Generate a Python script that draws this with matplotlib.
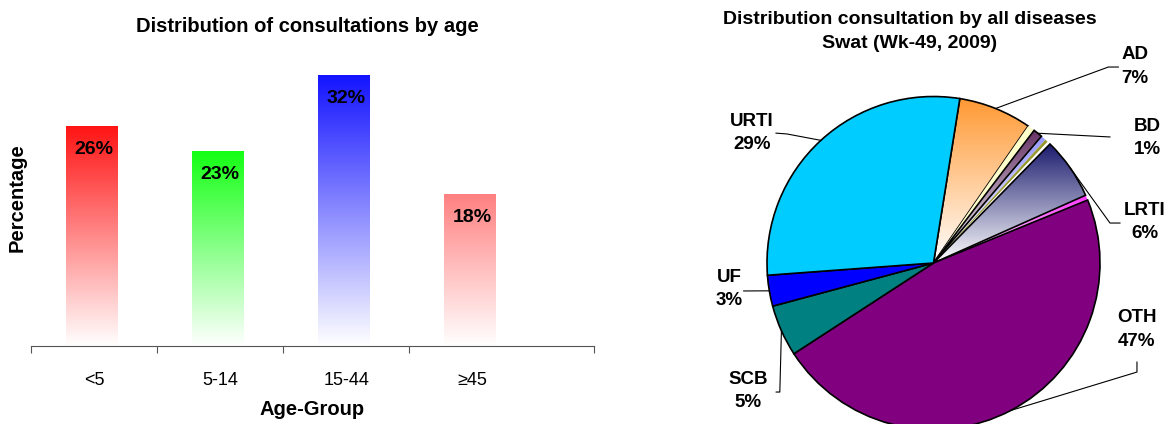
import numpy as np
import matplotlib.pyplot as plt
from matplotlib.colors import to_rgb

plt.rcParams['font.family'] = ['Liberation Sans', 'DejaVu Sans']

# ---- Bar chart data ----
age_groups = ["<5", "5-14", "15-44", "≥45"]
age_share = [26, 23, 32, 18]
bar_colors = ["#ff1414", "#14ff14", "#1414ff", "#ff8080"]

# ---- Pie chart data ----
disease_names = ["AD", "", "BD", "", "", "", "LRTI", "", "OTH", "SCB", "UF", "URTI"]
disease_share = [7.1, 0.7, 0.9, 0.5, 0.3, 0.3, 6.0, 0.5, 47.0, 5.0, 3.0, 28.7]
pie_colors = ["#ff9933", "#ffffcc", "#663366", "#9999ff", "#999933", "#ffffff",
              "#1a1a6e", "#ff33ff", "#800080", "#008080", "#0000ff", "#00ccff"]
pie_gradient = [True, False, True, True, False, False, True, True, False, False, False, False]

# label text position + leader path (after the slice edge point), pie radius units
label_layout = {
    "AD":   ((1.21, 1.18),   [(1.05, 1.177), (1.11, 1.177)]),
    "BD":   ((1.282, 0.75),  [(1.06, 0.757)]),
    "LRTI": ((1.27, 0.245),  [(1.06, 0.24), (1.12, 0.24)]),
    "OTH":  ((1.222, -0.40), [(1.222, -0.655), (1.222, -0.595)]),
    "SCB":  ((-1.114, -0.77), [(-0.923, -0.775), (-0.945, -0.775)]),
    "UF":   ((-1.228, -0.156), [(-1.14, -0.168)]),
    "URTI": ((-1.09, 0.78),  [(-0.88, 0.775), (-0.946, 0.78)]),
}


def gradient_fill(ax, patch, extent, top_color, bottom_color="white", z=1):
    top = np.array(to_rgb(top_color))
    bot = np.array(to_rgb(bottom_color))
    t = np.linspace(0, 1, 256)[:, None, None]
    img = bot + (top - bot) * t
    im = ax.imshow(img, extent=extent, origin="lower", aspect="auto",
                   interpolation="bilinear", zorder=z)
    im.set_clip_path(patch)
    return im


fig = plt.figure(figsize=(11.72, 4.24), dpi=100)

# ---- Left: bar chart ----
ax1 = fig.add_axes([31 / 1172, 1 - 345.7 / 424, 563 / 1172, 295.7 / 424])
x = np.arange(len(age_groups)) + 0.5
bars = ax1.bar(x - 0.02, age_share, width=0.405, facecolor="none", edgecolor="none", zorder=2)
for b, c in zip(bars, bar_colors):
    ext = (b.get_x(), b.get_x() + b.get_width(), 0, b.get_height())
    gradient_fill(ax1, b, ext, c)
ax1.set_xlim(0, 4.465)
ax1.set_ylim(0, 35)

for xi, v in zip(x, age_share):
    ax1.annotate(f"{v}%", (xi, v), xytext=(0, -17), textcoords="offset points",
                 ha="center", va="center", fontsize=14, fontweight="bold")

for s in ["top", "right", "left"]:
    ax1.spines[s].set_visible(False)
ax1.spines["bottom"].set_color("#555555")
ax1.set_yticks([])
ax1.set_xticks([0, 1, 2, 3, 4.465])
ax1.set_xticklabels([])
ax1.tick_params(axis="x", which="major", length=5, color="#555555", direction="out")
ax1.set_xticks(x, minor=True)
ax1.set_xticklabels(age_groups, minor=True, fontsize=13)
ax1.tick_params(axis="x", which="minor", length=0, pad=19)

ax1.set_xlabel("Age-Group", fontsize=14.5, fontweight="bold")
ax1.xaxis.set_label_coords(0.5, -0.182)
ax1.set_ylabel("Percentage", fontsize=14.5, fontweight="bold")
ax1.yaxis.set_label_coords(-0.008, 0.5)

fig.text(307 / 1172, 1 - 27 / 424, "Distribution of consultations by age",
         ha="center", va="center", fontsize=14.5, fontweight="bold")

# ---- Right: pie chart ----
cx, cy, r = 933.5, 263.0, 166.5
ax2 = fig.add_axes([700 / 1172, 0, 472 / 1172, 1])
wedges, _ = ax2.pie(disease_share, colors=pie_colors, startangle=80.9,
                    counterclock=False, radius=1, center=(0, 0),
                    wedgeprops=dict(edgecolor="black", linewidth=1.2))
ax2.axis("off")

for w, c, g, name in zip(wedges, pie_colors, pie_gradient, disease_names):
    w.set_zorder(2)
    if name == "":
        w.set_edgecolor("none")
    if g:
        bb = w.get_path().get_extents()
        w.set_facecolor("none")
        gradient_fill(ax2, w, (bb.x0, bb.x1, bb.y0, bb.y1), c, z=1.5)

ax2.set_xlim((700 - cx) / r, (1172 - cx) / r)
ax2.set_ylim((cy - 424) / r, cy / r)
ax2.set_aspect("auto")

for w, name, v in zip(wedges, disease_names, disease_share):
    if name == "":
        continue
    (tx, ty), path = label_layout[name]
    mid = np.deg2rad((w.theta1 + w.theta2) / 2)
    pts = [(np.cos(mid), np.sin(mid))] + path
    ax2.plot([p[0] for p in pts], [p[1] for p in pts], color="black", lw=0.8, zorder=3)
    ax2.text(tx, ty, f"{name}\n{round(v)}%", ha="center", va="center",
             fontsize=13.5, fontweight="bold", linespacing=1.5)

fig.text(910 / 1172, 1 - 31.5 / 424,
         "Distribution consultation by all diseases\nSwat (Wk-49, 2009)",
         ha="center", va="center", fontsize=14, fontweight="bold", linespacing=1.5)

fig.savefig("out.png", dpi=100)
